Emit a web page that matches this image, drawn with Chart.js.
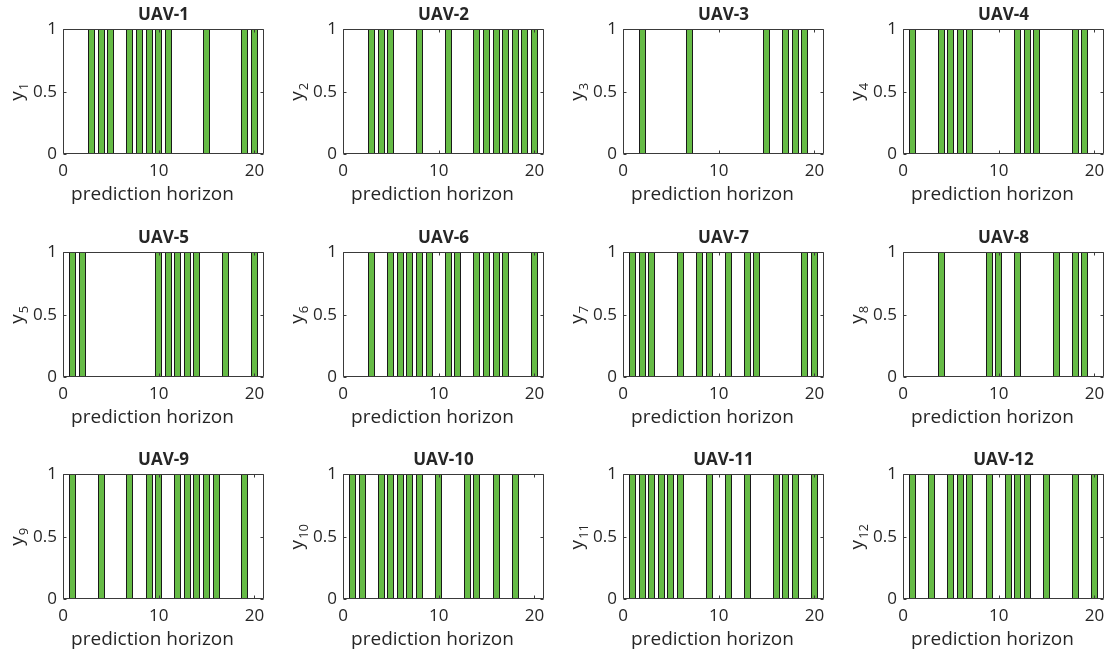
<!DOCTYPE html>
<html>
<head>
<meta charset="utf-8">
<script src="https://cdn.jsdelivr.net/npm/chart.js@4.4.1/dist/chart.umd.min.js"></script>
<style>
  html, body { margin: 0; padding: 0; background: #ffffff; }
  #grid { position: relative; width: 1104px; height: 652px; overflow: hidden; }
  #grid canvas { position: absolute; }
</style>
</head>
<body>
<div id="grid"></div>
<script>
// Prediction steps along the horizon
const steps = [1, 2, 3, 4, 5, 6, 7, 8, 9, 10, 11, 12, 13, 14, 15, 16, 17, 18, 19, 20];
const xTicks = [0, 10, 20];
const yTicks = [0, 0.5, 1];
const yTickLabels = ['0', '0.5', '1'];
const xTitle = 'prediction horizon';

// Binary decision y_i(k) for each UAV over the horizon
const uav1  = [0,0,1,1,1,0,1,1,1,1,1,0,0,0,1,0,0,0,1,1];
const uav2  = [0,0,1,1,1,0,0,1,0,0,1,0,0,1,1,1,1,1,1,1];
const uav3  = [0,1,0,0,0,0,1,0,0,0,0,0,0,0,1,0,1,1,1,0];
const uav4  = [1,0,0,1,1,1,1,0,0,0,0,1,1,1,0,0,0,1,1,0];
const uav5  = [1,1,0,0,0,0,0,0,0,1,1,1,1,1,0,0,1,0,0,1];
const uav6  = [0,0,1,0,1,1,1,1,1,0,1,1,0,1,1,1,1,0,0,1];
const uav7  = [1,1,1,0,0,1,0,1,1,0,1,0,1,1,0,0,0,0,1,1];
const uav8  = [0,0,0,1,0,0,0,0,1,1,0,1,0,0,0,1,0,1,1,0];
const uav9  = [1,0,0,1,0,0,1,0,1,1,0,1,1,1,1,1,0,0,1,0];
const uav10 = [1,1,0,1,1,1,1,1,0,1,0,0,1,1,0,1,0,1,0,0];
const uav11 = [1,1,1,1,1,1,0,0,1,0,1,0,1,0,0,1,1,1,0,1];
const uav12 = [1,0,1,0,1,1,1,0,1,0,1,1,1,0,1,0,0,1,0,1];

const panelNames = ['UAV-1','UAV-2','UAV-3','UAV-4','UAV-5','UAV-6','UAV-7','UAV-8','UAV-9','UAV-10','UAV-11','UAV-12'];
const ySubscripts = ['1','2','3','4','5','6','7','8','9','10','11','12'];
const panelValues = [uav1, uav2, uav3, uav4, uav5, uav6, uav7, uav8, uav9, uav10, uav11, uav12];

const FONT = '"Open Sans", "Noto Sans", sans-serif';
const TEXT = '#262626';
const AXIS = '#3a3a3a';
const BAR_FILL = '#66bb46';
const BAR_EDGE = '#1a1a1a';

const CELL_W = 280, CELL_H = 223;

// Snap bar edges to whole pixels so the outlines stay crisp
const crispBars = {
  id: 'crispBars',
  beforeDatasetsDraw(chart) {
    chart.getDatasetMeta(0).data.forEach(el => {
      const w = Math.round(el.width);
      const left = Math.round(el.x - el.width / 2);
      el.width = w;
      el.x = left + w / 2;
      el.y = Math.round(el.y);
      el.base = Math.round(el.base);
    });
  }
};

// Axes box with inward ticks on all four sides
const framePlugin = {
  id: 'frame',
  afterDatasetsDraw(chart) {
    const { ctx, chartArea: a, scales: { x, y } } = chart;
    const tl = 3;
    ctx.save();
    ctx.strokeStyle = AXIS;
    ctx.lineWidth = 1;
    const L = Math.round(a.left) + 0.5, R = Math.round(a.right) - 0.5;
    const T = Math.round(a.top) + 0.5, B = Math.round(a.bottom) - 0.5;
    ctx.beginPath();
    ctx.rect(L, T, R - L, B - T);
    xTicks.forEach(v => {
      const px = Math.round(x.getPixelForValue(v)) + 0.5;
      ctx.moveTo(px, B); ctx.lineTo(px, B - tl);
      ctx.moveTo(px, T); ctx.lineTo(px, T + tl);
    });
    yTicks.forEach(v => {
      const py = Math.round(y.getPixelForValue(v)) + 0.5;
      ctx.moveTo(L, py); ctx.lineTo(L + tl, py);
      ctx.moveTo(R, py); ctx.lineTo(R - tl, py);
    });
    ctx.stroke();
    ctx.restore();
  }
};

// Axis labels: "prediction horizon" below, rotated "y" with subscript index on the left
const axisLabels = {
  id: 'axisLabels',
  afterDraw(chart, args, opts) {
    const { ctx, chartArea: a } = chart;
    ctx.save();
    ctx.fillStyle = TEXT;

    // x label
    ctx.font = '19px ' + FONT;
    ctx.textAlign = 'center';
    ctx.textBaseline = 'middle';
    ctx.fillText(xTitle, (a.left + a.right) / 2 + opts.xShift, a.bottom + opts.xGap);

    // y label
    const cy = (a.top + a.bottom) / 2;
    const mainFont = '19px ' + FONT;
    const subFont = '13px ' + FONT;
    ctx.translate(0, cy);
    ctx.rotate(-Math.PI / 2);
    ctx.textBaseline = 'alphabetic';
    ctx.textAlign = 'left';
    ctx.font = mainFont;
    const w1 = ctx.measureText('y').width;
    ctx.font = subFont;
    const w2 = ctx.measureText(opts.sub).width;
    const start = -(w1 + w2 + 1) / 2;
    ctx.font = mainFont;
    ctx.fillText('y', start, opts.baseline);
    ctx.font = subFont;
    ctx.fillText(opts.sub, start + w1 + 1, opts.baseline + 5);
    ctx.restore();
  }
};

const grid = document.getElementById('grid');

panelNames.forEach((name, i) => {
  const col = i % 4, row = Math.floor(i / 4);
  const cv = document.createElement('canvas');
  cv.width = CELL_W; cv.height = CELL_H;
  cv.style.left = (col * 280) + 'px';
  cv.style.top = [0, 223, 445][row] + 'px';
  cv.style.width = CELL_W + 'px'; cv.style.height = CELL_H + 'px';
  grid.appendChild(cv);

  const vals = panelValues[i];
  new Chart(cv, {
    type: 'bar',
    data: {
      datasets: [{
        data: steps.map((s, k) => ({ x: s, y: vals[k] })),
        backgroundColor: BAR_FILL,
        borderColor: BAR_EDGE,
        borderWidth: 1,
        borderSkipped: 'start',
        barPercentage: 0.74,
        categoryPercentage: 1
      }]
    },
    options: {
      responsive: false,
      animation: false,
      devicePixelRatio: 1,
      layout: { padding: { left: 0, right: 16, top: 0, bottom: 0 } },
      plugins: {
        legend: { display: false },
        tooltip: { enabled: false },
        axisLabels: { sub: ySubscripts[i], baseline: 23, xShift: -11, xGap: 41 },
        title: {
          display: true,
          text: name,
          fullSize: false,
          color: TEXT,
          font: { family: FONT, size: 17, weight: 'bold', lineHeight: 1.2 },
          padding: { top: 5, bottom: 4 }
        }
      },
      scales: {
        x: {
          type: 'linear',
          min: 0, max: 21,
          offset: false,
          grid: { display: false, drawTicks: false },
          border: { display: false },
          afterBuildTicks: s => { s.ticks = xTicks.map(v => ({ value: v })); },
          afterFit: s => { s.height = 69; },
          ticks: { color: TEXT, padding: 7, maxRotation: 0, font: { family: FONT, size: 17 } },
          title: { display: false }
        },
        y: {
          min: 0, max: 1,
          grid: { display: false, drawTicks: false },
          border: { display: false },
          afterBuildTicks: s => { s.ticks = yTicks.map(v => ({ value: v })); },
          afterFit: s => { s.width = 63; },
          ticks: {
            color: TEXT, padding: 6,
            font: { family: FONT, size: 17 },
            callback: v => yTickLabels[yTicks.indexOf(v)]
          },
          title: { display: false }
        }
      }
    },
    plugins: [crispBars, framePlugin, axisLabels]
  });
});
</script>
</body>
</html>
